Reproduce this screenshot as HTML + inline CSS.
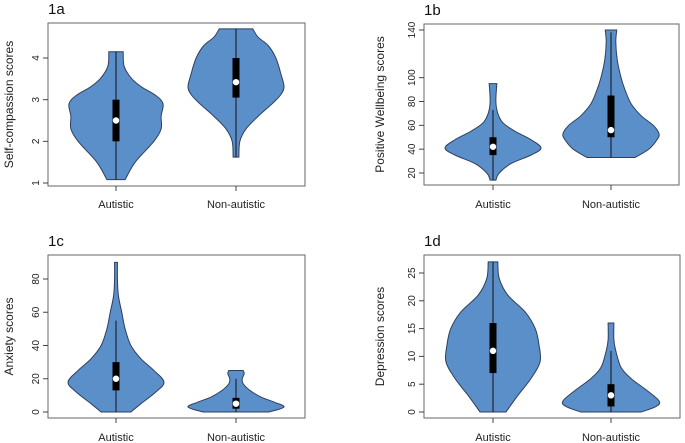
<!DOCTYPE html>
<html><head><meta charset="utf-8">
<style>
html,body{margin:0;padding:0;background:#fff;}
svg{display:block;font-family:"Liberation Sans",sans-serif;}
</style></head>
<body>
<svg id="chart" width="685" height="443" viewBox="0 0 685 443"></svg>
<script>
// ---- data ----
const categories = ["Autistic", "Non-autistic"];
// Panel 1a
const aTicks = [1, 2, 3, 4];
const aAutV = [1.08,1.5,2.0,2.3,2.6,2.9,3.1,3.3,3.5,3.8,4.15];
const aAutD = [0.19,0.40,0.79,0.94,0.94,0.98,0.83,0.54,0.33,0.17,0.15];
const aNonV = [1.62,2.0,2.3,2.6,2.9,3.1,3.3,3.6,4.0,4.3,4.5,4.7];
const aNonD = [0.06,0.08,0.21,0.46,0.75,0.92,1.0,0.94,0.83,0.67,0.46,0.35];
const aBox = [[1.08,2,2.5,3,4.15],[1.62,3.05,3.42,4.0,4.7]];
// Panel 1b
const bTicks = [20,40,60,80,100,140];
const bAutV = [14,20,28,35,41,48,55,62,70,80,95];
const bAutD = [0.06,0.13,0.38,0.79,1.0,0.79,0.46,0.21,0.10,0.06,0.08];
const bNonV = [33,40,48,53,60,68,78,90,100,115,130,140];
const bNonD = [0.50,0.79,0.96,1.0,0.88,0.63,0.42,0.29,0.21,0.13,0.10,0.12];
const bBox = [[14,35,42,50,73],[33,50,56,85,138]];
// Panel 1c
const cTicks = [0,20,40,60,80];
const cAutV = [0,5,12,18,25,32,40,50,60,70,80,90];
const cAutD = [0.31,0.52,0.83,1.0,0.79,0.52,0.31,0.19,0.12,0.05,0.03,0.03];
const cNonV = [0,3,6,9,13,17,20,23,25];
const cNonD = [0.69,1.0,0.79,0.52,0.29,0.15,0.13,0.17,0.15];
const cBox = [[0,13,20,30,55],[0,2,5,8.5,20]];
// Panel 1d
const dTicks = [0,5,10,15,20,25];
const dAutV = [0,3,6,9,12,15,18,21,24,27];
const dAutD = [0.27,0.52,0.79,0.98,0.96,0.88,0.67,0.31,0.13,0.10];
const dNonV = [0,1,2,4,6,8,11,13,16];
const dNonD = [0.63,0.94,1.0,0.73,0.42,0.21,0.10,0.06,0.06];
const dBox = [[0,7,11,16,27],[0,1,3,5,11]];

const NS="http://www.w3.org/2000/svg";
const svg=document.getElementById('chart');
function mk(tag,attrs,parent){const e=document.createElementNS(NS,tag);for(const k in attrs)e.setAttribute(k,attrs[k]);(parent||svg).appendChild(e);return e;}

const panels=[
 {id:"1a",box:[48,23,305,186],y0:1,y1:4,py0:183,py1:58,cx:[116,236],ticks:aTicks,title:"Self-compassion scores",tx:10,labY:208,
  v:[[aAutV,aAutD],[aNonV,aNonD]],bx:aBox},
 {id:"1b",box:[424,24,679,185],y0:20,y1:140,py0:173,py1:30,cx:[493,611],ticks:bTicks,title:"Positive Wellbeing scores",tx:381,labY:208,
  v:[[bAutV,bAutD],[bNonV,bNonD]],bx:bBox},
 {id:"1c",box:[48,255,305,418],y0:0,y1:80,py0:412,py1:279,cx:[116,236],ticks:cTicks,title:"Anxiety scores",tx:10,labY:441,
  v:[[cAutV,cAutD],[cNonV,cNonD]],bx:cBox},
 {id:"1d",box:[424,255,680,418],y0:0,y1:25,py0:412,py1:273,cx:[493,611],ticks:dTicks,title:"Depression scores",tx:381,labY:441,
  v:[[dAutV,dAutD],[dNonV,dNonD]],bx:dBox}
];
const HW=48;
panels.forEach(p=>{
  const g=mk('g',{});
  
  
  const y=v=>p.py0+(v-p.y0)*(p.py1-p.py0)/(p.y1-p.y0);
  const [x0,y0,x1,y1]=p.box;
  const t=mk('text',{x:x0,y:y0-9,'font-size':15,fill:'#111'},g);t.textContent=p.id;
  
  
  const fr=mk('rect',{x:x0,y:y0,width:x1-x0,height:y1-y0,fill:'none',stroke:'#666','stroke-width':1},g);
  
  
  p.ticks.forEach(tv=>{
    const ty=y(tv);
    mk('line',{x1:x0-5,x2:x0,y1:ty,y2:ty,stroke:'#444'},g);
    const tl=mk('text',{x:x0-9,y:ty,'font-size':10,fill:'#222','text-anchor':'middle',transform:`rotate(-90 ${x0-9} ${ty})`},g);
    tl.textContent=tv;
    
    
  });
  const yt=mk('text',{x:p.tx,y:(y0+y1)/2,'font-size':12,fill:'#222','text-anchor':'middle','dominant-baseline':'middle',transform:`rotate(-90 ${p.tx} ${(y0+y1)/2})`},g);
  yt.textContent=p.title;
  
  
  categories.forEach((c,i)=>{
    const cx=p.cx[i];
    mk('line',{x1:cx,x2:cx,y1:y1,y2:y1+5,stroke:'#444'},g);
    const cl=mk('text',{x:cx,y:p.labY,'font-size':11,fill:'#222','text-anchor':'middle'},g);
    cl.textContent=c;
    
    
    const [vs,ds]=p.v[i];
    let pts=[];
    vs.forEach((v,k)=>pts.push([cx+ds[k]*HW,y(v)]));
    for(let k=vs.length-1;k>=0;k--)pts.push([cx-ds[k]*HW,y(vs[k])]);
    // smooth path via catmull-rom on each side
    function side(arr){let d='';for(let k=0;k<arr.length-1;k++){const p0=arr[Math.max(k-1,0)],p1=arr[k],p2=arr[k+1],p3=arr[Math.min(k+2,arr.length-1)];
      const c1=[p1[0]+(p2[0]-p0[0])/6,p1[1]+(p2[1]-p0[1])/6],c2=[p2[0]-(p3[0]-p1[0])/6,p2[1]-(p3[1]-p1[1])/6];
      d+=`C${c1[0]},${c1[1]} ${c2[0]},${c2[1]} ${p2[0]},${p2[1]}`;}return d;}
    const right=vs.map((v,k)=>[cx+ds[k]*HW,y(v)]);
    const left=vs.map((v,k)=>[cx-ds[k]*HW,y(v)]).reverse();
    const d=`M${right[0][0]},${right[0][1]}`+side(right)+`L${left[0][0]},${left[0][1]}`+side(left)+'Z';
    const vp=mk('path',{d:d,fill:'#5b8fc9',stroke:'#2e3f5c','stroke-width':1},g);
    
    
    const b=p.bx[i];
    mk('line',{x1:cx,x2:cx,y1:y(b[0]),y2:y(b[4]),stroke:'#111','stroke-width':1},g);
    const br=mk('rect',{x:cx-3.5,y:y(b[3]),width:7,height:y(b[1])-y(b[3]),fill:'#000'},g);
    
    
    const md=mk('circle',{cx:cx,cy:y(b[2]),r:3.2,fill:'#fff'},g);
    
    
  });
});
</script>
</body></html>
